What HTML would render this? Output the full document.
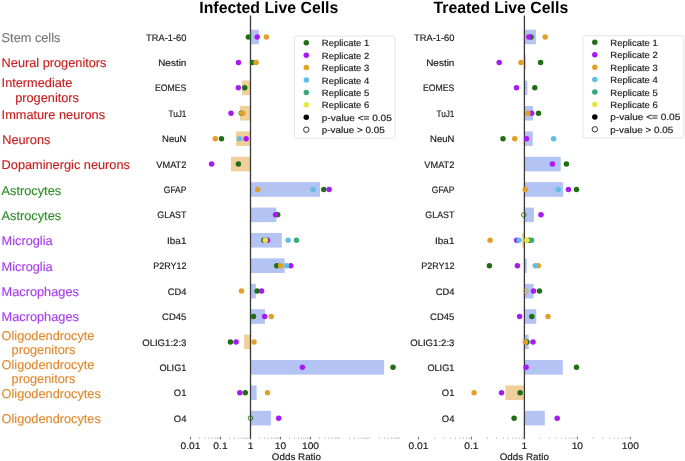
<!DOCTYPE html><html><head><meta charset="utf-8"><style>html,body{margin:0;padding:0;background:#fff;width:685px;height:461px;overflow:hidden}svg{display:block;will-change:transform}text{font-family:"Liberation Sans",sans-serif;text-rendering:geometricPrecision}</style></head><body>
<svg width="685" height="461" viewBox="0 0 685 461">
<rect width="685" height="461" fill="#fff"/>
<text x="1.6" y="41.9" font-size="12.75" fill="#787878" stroke="#787878" stroke-width="0.15">Stem cells</text>
<text x="1.6" y="67.0" font-size="12.75" fill="#c82020" stroke="#c82020" stroke-width="0.15">Neural progenitors</text>
<text x="1.6" y="87.3" font-size="12.75" fill="#c82020" stroke="#c82020" stroke-width="0.15">Intermediate</text>
<text x="15.2" y="101.9" font-size="12.75" fill="#c82020" stroke="#c82020" stroke-width="0.15">progenitors</text>
<text x="1.6" y="118.7" font-size="12.75" fill="#c82020" stroke="#c82020" stroke-width="0.15">Immature neurons</text>
<text x="2.2" y="143.7" font-size="12.75" fill="#c82020" stroke="#c82020" stroke-width="0.15">Neurons</text>
<text x="1.6" y="168.8" font-size="12.75" fill="#c82020" stroke="#c82020" stroke-width="0.15">Dopaminergic neurons</text>
<text x="1.6" y="194.5" font-size="12.75" fill="#2f8f2a" stroke="#2f8f2a" stroke-width="0.15">Astrocytes</text>
<text x="1.6" y="219.6" font-size="12.75" fill="#2f8f2a" stroke="#2f8f2a" stroke-width="0.15">Astrocytes</text>
<text x="1.6" y="245.4" font-size="12.75" fill="#a83cf0" stroke="#a83cf0" stroke-width="0.15">Microglia</text>
<text x="1.6" y="270.5" font-size="12.75" fill="#a83cf0" stroke="#a83cf0" stroke-width="0.15">Microglia</text>
<text x="1.6" y="296.0" font-size="12.75" fill="#a83cf0" stroke="#a83cf0" stroke-width="0.15">Macrophages</text>
<text x="1.6" y="321.0" font-size="12.75" fill="#a83cf0" stroke="#a83cf0" stroke-width="0.15">Macrophages</text>
<text x="1.6" y="339.7" font-size="12.75" fill="#e08a30" stroke="#e08a30" stroke-width="0.15">Oligodendrocyte</text>
<text x="11.6" y="353.9" font-size="12.75" fill="#e08a30" stroke="#e08a30" stroke-width="0.15">progenitors</text>
<text x="1.6" y="368.6" font-size="12.75" fill="#e08a30" stroke="#e08a30" stroke-width="0.15">Oligodendrocyte</text>
<text x="11.6" y="382.9" font-size="12.75" fill="#e08a30" stroke="#e08a30" stroke-width="0.15">progenitors</text>
<text x="1.6" y="397.8" font-size="12.75" fill="#e08a30" stroke="#e08a30" stroke-width="0.15">Oligodendrocytes</text>
<text x="1.6" y="422.9" font-size="12.75" fill="#e08a30" stroke="#e08a30" stroke-width="0.15">Oligodendrocytes</text>
<text x="199.3" y="13.2" font-size="16.3" font-weight="bold" fill="#000" textLength="139.0" lengthAdjust="spacingAndGlyphs">Infected Live Cells</text>
<text x="433.5" y="13.2" font-size="16.3" font-weight="bold" fill="#000" textLength="134.7" lengthAdjust="spacingAndGlyphs">Treated Live Cells</text>
<text x="186.40" y="40.60" font-size="9.41" fill="#1c1c1c" stroke="#1c1c1c" stroke-width="0.18" text-anchor="end" textLength="40.34" lengthAdjust="spacingAndGlyphs">TRA-1-60</text>
<text x="186.40" y="66.01" font-size="9.41" fill="#1c1c1c" stroke="#1c1c1c" stroke-width="0.18" text-anchor="end" textLength="28.21" lengthAdjust="spacingAndGlyphs">Nestin</text>
<text x="186.40" y="91.42" font-size="9.41" fill="#1c1c1c" stroke="#1c1c1c" stroke-width="0.18" text-anchor="end" textLength="31.40" lengthAdjust="spacingAndGlyphs">EOMES</text>
<text x="186.40" y="116.83" font-size="9.41" fill="#1c1c1c" stroke="#1c1c1c" stroke-width="0.18" text-anchor="end" textLength="17.91" lengthAdjust="spacingAndGlyphs">TuJ1</text>
<text x="186.40" y="142.24" font-size="9.41" fill="#1c1c1c" stroke="#1c1c1c" stroke-width="0.18" text-anchor="end" textLength="24.29" lengthAdjust="spacingAndGlyphs">NeuN</text>
<text x="186.40" y="167.65" font-size="9.41" fill="#1c1c1c" stroke="#1c1c1c" stroke-width="0.18" text-anchor="end" textLength="30.09" lengthAdjust="spacingAndGlyphs">VMAT2</text>
<text x="186.40" y="193.06" font-size="9.41" fill="#1c1c1c" stroke="#1c1c1c" stroke-width="0.18" text-anchor="end" textLength="22.53" lengthAdjust="spacingAndGlyphs">GFAP</text>
<text x="186.40" y="218.47" font-size="9.41" fill="#1c1c1c" stroke="#1c1c1c" stroke-width="0.18" text-anchor="end" textLength="29.07" lengthAdjust="spacingAndGlyphs">GLAST</text>
<text x="186.40" y="243.88" font-size="9.41" fill="#1c1c1c" stroke="#1c1c1c" stroke-width="0.18" text-anchor="end" textLength="19.28" lengthAdjust="spacingAndGlyphs">Iba1</text>
<text x="186.40" y="269.29" font-size="9.41" fill="#1c1c1c" stroke="#1c1c1c" stroke-width="0.18" text-anchor="end" textLength="33.22" lengthAdjust="spacingAndGlyphs">P2RY12</text>
<text x="186.40" y="294.70" font-size="9.41" fill="#1c1c1c" stroke="#1c1c1c" stroke-width="0.18" text-anchor="end" textLength="18.62" lengthAdjust="spacingAndGlyphs">CD4</text>
<text x="186.40" y="320.11" font-size="9.41" fill="#1c1c1c" stroke="#1c1c1c" stroke-width="0.18" text-anchor="end" textLength="24.26" lengthAdjust="spacingAndGlyphs">CD45</text>
<text x="186.40" y="345.52" font-size="9.41" fill="#1c1c1c" stroke="#1c1c1c" stroke-width="0.18" text-anchor="end" textLength="44.22" lengthAdjust="spacingAndGlyphs">OLIG1:2:3</text>
<text x="186.40" y="370.93" font-size="9.41" fill="#1c1c1c" stroke="#1c1c1c" stroke-width="0.18" text-anchor="end" textLength="27.00" lengthAdjust="spacingAndGlyphs">OLIG1</text>
<text x="186.40" y="396.34" font-size="9.41" fill="#1c1c1c" stroke="#1c1c1c" stroke-width="0.18" text-anchor="end" textLength="12.60" lengthAdjust="spacingAndGlyphs">O1</text>
<text x="186.40" y="421.75" font-size="9.41" fill="#1c1c1c" stroke="#1c1c1c" stroke-width="0.18" text-anchor="end" textLength="12.60" lengthAdjust="spacingAndGlyphs">O4</text>
<rect x="250.50" y="29.70" width="8.40" height="14.6" fill="#b3c3f3"/>
<rect x="242.10" y="80.52" width="8.40" height="14.6" fill="#f0d09a"/>
<rect x="239.90" y="105.93" width="10.60" height="14.6" fill="#f0d09a"/>
<rect x="236.10" y="131.34" width="14.40" height="14.6" fill="#f0d09a"/>
<rect x="231.00" y="156.75" width="19.50" height="14.6" fill="#f0d09a"/>
<rect x="250.50" y="182.16" width="69.50" height="14.6" fill="#b3c3f3"/>
<rect x="250.50" y="207.57" width="26.00" height="14.6" fill="#b3c3f3"/>
<rect x="250.50" y="232.98" width="31.30" height="14.6" fill="#b3c3f3"/>
<rect x="250.50" y="258.39" width="34.20" height="14.6" fill="#b3c3f3"/>
<rect x="250.50" y="283.80" width="5.30" height="14.6" fill="#b3c3f3"/>
<rect x="250.50" y="309.21" width="14.40" height="14.6" fill="#b3c3f3"/>
<rect x="244.10" y="334.62" width="6.40" height="14.6" fill="#f0d09a"/>
<rect x="250.50" y="360.03" width="133.60" height="14.6" fill="#b3c3f3"/>
<rect x="250.50" y="385.44" width="6.10" height="14.6" fill="#b3c3f3"/>
<rect x="250.50" y="410.85" width="20.40" height="14.6" fill="#b3c3f3"/>
<line x1="250.5" y1="15.6" x2="250.5" y2="439" stroke="#3a3a3a" stroke-width="1.3"/>
<line x1="190.50" y1="436.8" x2="190.50" y2="439.4" stroke="#555" stroke-width="0.9"/>
<text x="190.50" y="448.70" font-size="9.51" fill="#1c1c1c" stroke="#1c1c1c" stroke-width="0.18" text-anchor="middle" textLength="19.93" lengthAdjust="spacingAndGlyphs">0.01</text>
<line x1="220.50" y1="436.8" x2="220.50" y2="439.4" stroke="#555" stroke-width="0.9"/>
<text x="220.50" y="448.70" font-size="9.51" fill="#1c1c1c" stroke="#1c1c1c" stroke-width="0.18" text-anchor="middle" textLength="14.23" lengthAdjust="spacingAndGlyphs">0.1</text>
<line x1="250.50" y1="436.8" x2="250.50" y2="439.4" stroke="#555" stroke-width="0.9"/>
<text x="250.50" y="448.70" font-size="9.51" fill="#1c1c1c" stroke="#1c1c1c" stroke-width="0.18" text-anchor="middle" textLength="5.69" lengthAdjust="spacingAndGlyphs">1</text>
<line x1="280.50" y1="436.8" x2="280.50" y2="439.4" stroke="#555" stroke-width="0.9"/>
<text x="280.50" y="448.70" font-size="9.51" fill="#1c1c1c" stroke="#1c1c1c" stroke-width="0.18" text-anchor="middle" textLength="11.39" lengthAdjust="spacingAndGlyphs">10</text>
<line x1="310.50" y1="436.8" x2="310.50" y2="439.4" stroke="#555" stroke-width="0.9"/>
<text x="310.50" y="448.70" font-size="9.51" fill="#1c1c1c" stroke="#1c1c1c" stroke-width="0.18" text-anchor="middle" textLength="17.08" lengthAdjust="spacingAndGlyphs">100</text>
<line x1="199.53" y1="437.4" x2="199.53" y2="439.0" stroke="#aaa" stroke-width="0.7"/>
<line x1="204.81" y1="437.4" x2="204.81" y2="439.0" stroke="#aaa" stroke-width="0.7"/>
<line x1="208.56" y1="437.4" x2="208.56" y2="439.0" stroke="#aaa" stroke-width="0.7"/>
<line x1="211.47" y1="437.4" x2="211.47" y2="439.0" stroke="#aaa" stroke-width="0.7"/>
<line x1="213.84" y1="437.4" x2="213.84" y2="439.0" stroke="#aaa" stroke-width="0.7"/>
<line x1="215.85" y1="437.4" x2="215.85" y2="439.0" stroke="#aaa" stroke-width="0.7"/>
<line x1="217.59" y1="437.4" x2="217.59" y2="439.0" stroke="#aaa" stroke-width="0.7"/>
<line x1="219.13" y1="437.4" x2="219.13" y2="439.0" stroke="#aaa" stroke-width="0.7"/>
<line x1="229.53" y1="437.4" x2="229.53" y2="439.0" stroke="#aaa" stroke-width="0.7"/>
<line x1="234.81" y1="437.4" x2="234.81" y2="439.0" stroke="#aaa" stroke-width="0.7"/>
<line x1="238.56" y1="437.4" x2="238.56" y2="439.0" stroke="#aaa" stroke-width="0.7"/>
<line x1="241.47" y1="437.4" x2="241.47" y2="439.0" stroke="#aaa" stroke-width="0.7"/>
<line x1="243.84" y1="437.4" x2="243.84" y2="439.0" stroke="#aaa" stroke-width="0.7"/>
<line x1="245.85" y1="437.4" x2="245.85" y2="439.0" stroke="#aaa" stroke-width="0.7"/>
<line x1="247.59" y1="437.4" x2="247.59" y2="439.0" stroke="#aaa" stroke-width="0.7"/>
<line x1="249.13" y1="437.4" x2="249.13" y2="439.0" stroke="#aaa" stroke-width="0.7"/>
<line x1="259.53" y1="437.4" x2="259.53" y2="439.0" stroke="#aaa" stroke-width="0.7"/>
<line x1="264.81" y1="437.4" x2="264.81" y2="439.0" stroke="#aaa" stroke-width="0.7"/>
<line x1="268.56" y1="437.4" x2="268.56" y2="439.0" stroke="#aaa" stroke-width="0.7"/>
<line x1="271.47" y1="437.4" x2="271.47" y2="439.0" stroke="#aaa" stroke-width="0.7"/>
<line x1="273.84" y1="437.4" x2="273.84" y2="439.0" stroke="#aaa" stroke-width="0.7"/>
<line x1="275.85" y1="437.4" x2="275.85" y2="439.0" stroke="#aaa" stroke-width="0.7"/>
<line x1="277.59" y1="437.4" x2="277.59" y2="439.0" stroke="#aaa" stroke-width="0.7"/>
<line x1="279.13" y1="437.4" x2="279.13" y2="439.0" stroke="#aaa" stroke-width="0.7"/>
<line x1="289.53" y1="437.4" x2="289.53" y2="439.0" stroke="#aaa" stroke-width="0.7"/>
<line x1="294.81" y1="437.4" x2="294.81" y2="439.0" stroke="#aaa" stroke-width="0.7"/>
<line x1="298.56" y1="437.4" x2="298.56" y2="439.0" stroke="#aaa" stroke-width="0.7"/>
<line x1="301.47" y1="437.4" x2="301.47" y2="439.0" stroke="#aaa" stroke-width="0.7"/>
<line x1="303.84" y1="437.4" x2="303.84" y2="439.0" stroke="#aaa" stroke-width="0.7"/>
<line x1="305.85" y1="437.4" x2="305.85" y2="439.0" stroke="#aaa" stroke-width="0.7"/>
<line x1="307.59" y1="437.4" x2="307.59" y2="439.0" stroke="#aaa" stroke-width="0.7"/>
<line x1="309.13" y1="437.4" x2="309.13" y2="439.0" stroke="#aaa" stroke-width="0.7"/>
<line x1="319.53" y1="437.4" x2="319.53" y2="439.0" stroke="#aaa" stroke-width="0.7"/>
<line x1="324.81" y1="437.4" x2="324.81" y2="439.0" stroke="#aaa" stroke-width="0.7"/>
<line x1="328.56" y1="437.4" x2="328.56" y2="439.0" stroke="#aaa" stroke-width="0.7"/>
<line x1="331.47" y1="437.4" x2="331.47" y2="439.0" stroke="#aaa" stroke-width="0.7"/>
<line x1="333.84" y1="437.4" x2="333.84" y2="439.0" stroke="#aaa" stroke-width="0.7"/>
<line x1="335.85" y1="437.4" x2="335.85" y2="439.0" stroke="#aaa" stroke-width="0.7"/>
<line x1="337.59" y1="437.4" x2="337.59" y2="439.0" stroke="#aaa" stroke-width="0.7"/>
<line x1="339.13" y1="437.4" x2="339.13" y2="439.0" stroke="#aaa" stroke-width="0.7"/>
<line x1="349.53" y1="437.4" x2="349.53" y2="439.0" stroke="#aaa" stroke-width="0.7"/>
<line x1="354.81" y1="437.4" x2="354.81" y2="439.0" stroke="#aaa" stroke-width="0.7"/>
<line x1="358.56" y1="437.4" x2="358.56" y2="439.0" stroke="#aaa" stroke-width="0.7"/>
<line x1="361.47" y1="437.4" x2="361.47" y2="439.0" stroke="#aaa" stroke-width="0.7"/>
<line x1="363.84" y1="437.4" x2="363.84" y2="439.0" stroke="#aaa" stroke-width="0.7"/>
<line x1="365.85" y1="437.4" x2="365.85" y2="439.0" stroke="#aaa" stroke-width="0.7"/>
<line x1="367.59" y1="437.4" x2="367.59" y2="439.0" stroke="#aaa" stroke-width="0.7"/>
<line x1="369.13" y1="437.4" x2="369.13" y2="439.0" stroke="#aaa" stroke-width="0.7"/>
<line x1="379.53" y1="437.4" x2="379.53" y2="439.0" stroke="#aaa" stroke-width="0.7"/>
<line x1="384.81" y1="437.4" x2="384.81" y2="439.0" stroke="#aaa" stroke-width="0.7"/>
<line x1="388.56" y1="437.4" x2="388.56" y2="439.0" stroke="#aaa" stroke-width="0.7"/>
<line x1="391.47" y1="437.4" x2="391.47" y2="439.0" stroke="#aaa" stroke-width="0.7"/>
<line x1="393.84" y1="437.4" x2="393.84" y2="439.0" stroke="#aaa" stroke-width="0.7"/>
<line x1="395.85" y1="437.4" x2="395.85" y2="439.0" stroke="#aaa" stroke-width="0.7"/>
<line x1="397.59" y1="437.4" x2="397.59" y2="439.0" stroke="#aaa" stroke-width="0.7"/>
<line x1="399.13" y1="437.4" x2="399.13" y2="439.0" stroke="#aaa" stroke-width="0.7"/>
<circle cx="248.4" cy="37.00" r="2.75" fill="#226e14"/>
<circle cx="257.2" cy="37.00" r="2.75" fill="#a61af6"/>
<circle cx="266.4" cy="37.00" r="2.75" fill="#e0a02a"/>
<circle cx="252.4" cy="62.41" r="2.75" fill="#226e14"/>
<circle cx="238.5" cy="62.41" r="2.75" fill="#a61af6"/>
<circle cx="256.1" cy="62.41" r="2.75" fill="#e0a02a"/>
<circle cx="244.7" cy="87.82" r="2.75" fill="#226e14"/>
<circle cx="238.3" cy="87.82" r="2.75" fill="#a61af6"/>
<circle cx="241.2" cy="113.23" r="2.3" fill="none" stroke="#226e14" stroke-width="0.9"/>
<circle cx="231.0" cy="113.23" r="2.75" fill="#a61af6"/>
<circle cx="242.8" cy="113.23" r="2.75" fill="#e0a02a"/>
<circle cx="221.5" cy="138.64" r="2.75" fill="#226e14"/>
<circle cx="246.1" cy="138.64" r="2.75" fill="#a61af6"/>
<circle cx="215.3" cy="138.64" r="2.75" fill="#e0a02a"/>
<circle cx="239.5" cy="138.64" r="2.75" fill="#62bde9"/>
<circle cx="238.4" cy="164.05" r="2.75" fill="#226e14"/>
<circle cx="211.6" cy="164.05" r="2.75" fill="#a61af6"/>
<circle cx="323.8" cy="189.46" r="2.75" fill="#226e14"/>
<circle cx="329.1" cy="189.46" r="2.75" fill="#a61af6"/>
<circle cx="257.7" cy="189.46" r="2.75" fill="#e0a02a"/>
<circle cx="313.3" cy="189.46" r="2.75" fill="#62bde9"/>
<circle cx="277.7" cy="214.87" r="2.75" fill="#226e14"/>
<circle cx="275.5" cy="214.87" r="2.75" fill="#a61af6"/>
<circle cx="263.9" cy="240.28" r="2.75" fill="#226e14"/>
<circle cx="267.5" cy="240.28" r="2.75" fill="#a61af6"/>
<circle cx="288.1" cy="240.28" r="2.75" fill="#62bde9"/>
<circle cx="296.5" cy="240.28" r="2.75" fill="#3aa877"/>
<circle cx="265.3" cy="240.28" r="2.75" fill="#e6e646"/>
<circle cx="276.8" cy="265.69" r="2.75" fill="#226e14"/>
<circle cx="290.7" cy="265.69" r="2.75" fill="#a61af6"/>
<circle cx="280.6" cy="265.69" r="2.75" fill="#e0a02a"/>
<circle cx="286.4" cy="265.69" r="2.75" fill="#62bde9"/>
<circle cx="257.1" cy="291.10" r="2.75" fill="#226e14"/>
<circle cx="261.6" cy="291.10" r="2.75" fill="#a61af6"/>
<circle cx="241.5" cy="291.10" r="2.75" fill="#e0a02a"/>
<circle cx="253.5" cy="316.51" r="2.75" fill="#226e14"/>
<circle cx="264.7" cy="316.51" r="2.75" fill="#a61af6"/>
<circle cx="271.2" cy="316.51" r="2.75" fill="#e0a02a"/>
<circle cx="230.4" cy="341.92" r="2.75" fill="#226e14"/>
<circle cx="236.1" cy="341.92" r="2.75" fill="#a61af6"/>
<circle cx="254.0" cy="341.92" r="2.75" fill="#e0a02a"/>
<circle cx="393.0" cy="367.33" r="2.75" fill="#226e14"/>
<circle cx="302.4" cy="367.33" r="2.75" fill="#a61af6"/>
<circle cx="245.3" cy="392.74" r="2.75" fill="#226e14"/>
<circle cx="239.8" cy="392.74" r="2.75" fill="#a61af6"/>
<circle cx="267.5" cy="392.74" r="2.75" fill="#e0a02a"/>
<circle cx="250.5" cy="418.15" r="2.3" fill="none" stroke="#226e14" stroke-width="0.9"/>
<circle cx="278.7" cy="418.15" r="2.75" fill="#a61af6"/>
<text x="454.40" y="40.60" font-size="9.41" fill="#1c1c1c" stroke="#1c1c1c" stroke-width="0.18" text-anchor="end" textLength="40.34" lengthAdjust="spacingAndGlyphs">TRA-1-60</text>
<text x="454.40" y="66.01" font-size="9.41" fill="#1c1c1c" stroke="#1c1c1c" stroke-width="0.18" text-anchor="end" textLength="28.21" lengthAdjust="spacingAndGlyphs">Nestin</text>
<text x="454.40" y="91.42" font-size="9.41" fill="#1c1c1c" stroke="#1c1c1c" stroke-width="0.18" text-anchor="end" textLength="31.40" lengthAdjust="spacingAndGlyphs">EOMES</text>
<text x="454.40" y="116.83" font-size="9.41" fill="#1c1c1c" stroke="#1c1c1c" stroke-width="0.18" text-anchor="end" textLength="17.91" lengthAdjust="spacingAndGlyphs">TuJ1</text>
<text x="454.40" y="142.24" font-size="9.41" fill="#1c1c1c" stroke="#1c1c1c" stroke-width="0.18" text-anchor="end" textLength="24.29" lengthAdjust="spacingAndGlyphs">NeuN</text>
<text x="454.40" y="167.65" font-size="9.41" fill="#1c1c1c" stroke="#1c1c1c" stroke-width="0.18" text-anchor="end" textLength="30.09" lengthAdjust="spacingAndGlyphs">VMAT2</text>
<text x="454.40" y="193.06" font-size="9.41" fill="#1c1c1c" stroke="#1c1c1c" stroke-width="0.18" text-anchor="end" textLength="22.53" lengthAdjust="spacingAndGlyphs">GFAP</text>
<text x="454.40" y="218.47" font-size="9.41" fill="#1c1c1c" stroke="#1c1c1c" stroke-width="0.18" text-anchor="end" textLength="29.07" lengthAdjust="spacingAndGlyphs">GLAST</text>
<text x="454.40" y="243.88" font-size="9.41" fill="#1c1c1c" stroke="#1c1c1c" stroke-width="0.18" text-anchor="end" textLength="19.28" lengthAdjust="spacingAndGlyphs">Iba1</text>
<text x="454.40" y="269.29" font-size="9.41" fill="#1c1c1c" stroke="#1c1c1c" stroke-width="0.18" text-anchor="end" textLength="33.22" lengthAdjust="spacingAndGlyphs">P2RY12</text>
<text x="454.40" y="294.70" font-size="9.41" fill="#1c1c1c" stroke="#1c1c1c" stroke-width="0.18" text-anchor="end" textLength="18.62" lengthAdjust="spacingAndGlyphs">CD4</text>
<text x="454.40" y="320.11" font-size="9.41" fill="#1c1c1c" stroke="#1c1c1c" stroke-width="0.18" text-anchor="end" textLength="24.26" lengthAdjust="spacingAndGlyphs">CD45</text>
<text x="454.40" y="345.52" font-size="9.41" fill="#1c1c1c" stroke="#1c1c1c" stroke-width="0.18" text-anchor="end" textLength="44.22" lengthAdjust="spacingAndGlyphs">OLIG1:2:3</text>
<text x="454.40" y="370.93" font-size="9.41" fill="#1c1c1c" stroke="#1c1c1c" stroke-width="0.18" text-anchor="end" textLength="27.00" lengthAdjust="spacingAndGlyphs">OLIG1</text>
<text x="454.40" y="396.34" font-size="9.41" fill="#1c1c1c" stroke="#1c1c1c" stroke-width="0.18" text-anchor="end" textLength="12.60" lengthAdjust="spacingAndGlyphs">O1</text>
<text x="454.40" y="421.75" font-size="9.41" fill="#1c1c1c" stroke="#1c1c1c" stroke-width="0.18" text-anchor="end" textLength="12.60" lengthAdjust="spacingAndGlyphs">O4</text>
<rect x="524.40" y="29.70" width="11.50" height="14.6" fill="#b3c3f3"/>
<rect x="524.40" y="55.11" width="1.30" height="14.6" fill="#b3c3f3"/>
<rect x="524.40" y="80.52" width="3.00" height="14.6" fill="#b3c3f3"/>
<rect x="524.40" y="105.93" width="8.60" height="14.6" fill="#b3c3f3"/>
<rect x="524.40" y="131.34" width="8.40" height="14.6" fill="#b3c3f3"/>
<rect x="524.40" y="156.75" width="36.30" height="14.6" fill="#b3c3f3"/>
<rect x="524.40" y="182.16" width="38.80" height="14.6" fill="#b3c3f3"/>
<rect x="524.40" y="207.57" width="9.50" height="14.6" fill="#b3c3f3"/>
<rect x="522.10" y="232.98" width="2.30" height="14.6" fill="#f0d09a"/>
<rect x="524.40" y="258.39" width="2.30" height="14.6" fill="#b3c3f3"/>
<rect x="524.40" y="283.80" width="9.20" height="14.6" fill="#b3c3f3"/>
<rect x="524.40" y="309.21" width="11.80" height="14.6" fill="#b3c3f3"/>
<rect x="524.40" y="334.62" width="4.20" height="14.6" fill="#b3c3f3"/>
<rect x="524.40" y="360.03" width="38.40" height="14.6" fill="#b3c3f3"/>
<rect x="505.40" y="385.44" width="19.00" height="14.6" fill="#f0d09a"/>
<rect x="524.40" y="410.85" width="20.40" height="14.6" fill="#b3c3f3"/>
<line x1="524.4" y1="15.6" x2="524.4" y2="439" stroke="#3a3a3a" stroke-width="1.3"/>
<line x1="418.50" y1="436.8" x2="418.50" y2="439.4" stroke="#555" stroke-width="0.9"/>
<text x="418.50" y="448.70" font-size="9.51" fill="#1c1c1c" stroke="#1c1c1c" stroke-width="0.18" text-anchor="middle" textLength="19.93" lengthAdjust="spacingAndGlyphs">0.01</text>
<line x1="471.45" y1="436.8" x2="471.45" y2="439.4" stroke="#555" stroke-width="0.9"/>
<text x="471.45" y="448.70" font-size="9.51" fill="#1c1c1c" stroke="#1c1c1c" stroke-width="0.18" text-anchor="middle" textLength="14.23" lengthAdjust="spacingAndGlyphs">0.1</text>
<line x1="524.40" y1="436.8" x2="524.40" y2="439.4" stroke="#555" stroke-width="0.9"/>
<text x="524.40" y="448.70" font-size="9.51" fill="#1c1c1c" stroke="#1c1c1c" stroke-width="0.18" text-anchor="middle" textLength="5.69" lengthAdjust="spacingAndGlyphs">1</text>
<line x1="577.35" y1="436.8" x2="577.35" y2="439.4" stroke="#555" stroke-width="0.9"/>
<text x="577.35" y="448.70" font-size="9.51" fill="#1c1c1c" stroke="#1c1c1c" stroke-width="0.18" text-anchor="middle" textLength="11.39" lengthAdjust="spacingAndGlyphs">10</text>
<line x1="630.30" y1="436.8" x2="630.30" y2="439.4" stroke="#555" stroke-width="0.9"/>
<text x="630.30" y="448.70" font-size="9.51" fill="#1c1c1c" stroke="#1c1c1c" stroke-width="0.18" text-anchor="middle" textLength="17.08" lengthAdjust="spacingAndGlyphs">100</text>
<line x1="434.44" y1="437.4" x2="434.44" y2="439.0" stroke="#aaa" stroke-width="0.7"/>
<line x1="443.76" y1="437.4" x2="443.76" y2="439.0" stroke="#aaa" stroke-width="0.7"/>
<line x1="450.38" y1="437.4" x2="450.38" y2="439.0" stroke="#aaa" stroke-width="0.7"/>
<line x1="455.51" y1="437.4" x2="455.51" y2="439.0" stroke="#aaa" stroke-width="0.7"/>
<line x1="459.70" y1="437.4" x2="459.70" y2="439.0" stroke="#aaa" stroke-width="0.7"/>
<line x1="463.25" y1="437.4" x2="463.25" y2="439.0" stroke="#aaa" stroke-width="0.7"/>
<line x1="466.32" y1="437.4" x2="466.32" y2="439.0" stroke="#aaa" stroke-width="0.7"/>
<line x1="469.03" y1="437.4" x2="469.03" y2="439.0" stroke="#aaa" stroke-width="0.7"/>
<line x1="487.39" y1="437.4" x2="487.39" y2="439.0" stroke="#aaa" stroke-width="0.7"/>
<line x1="496.71" y1="437.4" x2="496.71" y2="439.0" stroke="#aaa" stroke-width="0.7"/>
<line x1="503.33" y1="437.4" x2="503.33" y2="439.0" stroke="#aaa" stroke-width="0.7"/>
<line x1="508.46" y1="437.4" x2="508.46" y2="439.0" stroke="#aaa" stroke-width="0.7"/>
<line x1="512.65" y1="437.4" x2="512.65" y2="439.0" stroke="#aaa" stroke-width="0.7"/>
<line x1="516.20" y1="437.4" x2="516.20" y2="439.0" stroke="#aaa" stroke-width="0.7"/>
<line x1="519.27" y1="437.4" x2="519.27" y2="439.0" stroke="#aaa" stroke-width="0.7"/>
<line x1="521.98" y1="437.4" x2="521.98" y2="439.0" stroke="#aaa" stroke-width="0.7"/>
<line x1="540.34" y1="437.4" x2="540.34" y2="439.0" stroke="#aaa" stroke-width="0.7"/>
<line x1="549.66" y1="437.4" x2="549.66" y2="439.0" stroke="#aaa" stroke-width="0.7"/>
<line x1="556.28" y1="437.4" x2="556.28" y2="439.0" stroke="#aaa" stroke-width="0.7"/>
<line x1="561.41" y1="437.4" x2="561.41" y2="439.0" stroke="#aaa" stroke-width="0.7"/>
<line x1="565.60" y1="437.4" x2="565.60" y2="439.0" stroke="#aaa" stroke-width="0.7"/>
<line x1="569.15" y1="437.4" x2="569.15" y2="439.0" stroke="#aaa" stroke-width="0.7"/>
<line x1="572.22" y1="437.4" x2="572.22" y2="439.0" stroke="#aaa" stroke-width="0.7"/>
<line x1="574.93" y1="437.4" x2="574.93" y2="439.0" stroke="#aaa" stroke-width="0.7"/>
<line x1="593.29" y1="437.4" x2="593.29" y2="439.0" stroke="#aaa" stroke-width="0.7"/>
<line x1="602.61" y1="437.4" x2="602.61" y2="439.0" stroke="#aaa" stroke-width="0.7"/>
<line x1="609.23" y1="437.4" x2="609.23" y2="439.0" stroke="#aaa" stroke-width="0.7"/>
<line x1="614.36" y1="437.4" x2="614.36" y2="439.0" stroke="#aaa" stroke-width="0.7"/>
<line x1="618.55" y1="437.4" x2="618.55" y2="439.0" stroke="#aaa" stroke-width="0.7"/>
<line x1="622.10" y1="437.4" x2="622.10" y2="439.0" stroke="#aaa" stroke-width="0.7"/>
<line x1="625.17" y1="437.4" x2="625.17" y2="439.0" stroke="#aaa" stroke-width="0.7"/>
<line x1="627.88" y1="437.4" x2="627.88" y2="439.0" stroke="#aaa" stroke-width="0.7"/>
<circle cx="531.0" cy="37.00" r="2.75" fill="#226e14"/>
<circle cx="528.8" cy="37.00" r="2.75" fill="#a61af6"/>
<circle cx="545.2" cy="37.00" r="2.75" fill="#e0a02a"/>
<circle cx="540.6" cy="62.41" r="2.75" fill="#226e14"/>
<circle cx="499.2" cy="62.41" r="2.75" fill="#a61af6"/>
<circle cx="521.0" cy="62.41" r="2.75" fill="#e0a02a"/>
<circle cx="534.8" cy="87.82" r="2.75" fill="#226e14"/>
<circle cx="516.5" cy="87.82" r="2.75" fill="#a61af6"/>
<circle cx="538.5" cy="113.23" r="2.75" fill="#226e14"/>
<circle cx="531.7" cy="113.23" r="2.75" fill="#a61af6"/>
<circle cx="527.8" cy="113.23" r="2.75" fill="#e0a02a"/>
<circle cx="503.0" cy="138.64" r="2.75" fill="#226e14"/>
<circle cx="526.5" cy="138.64" r="2.75" fill="#a61af6"/>
<circle cx="514.7" cy="138.64" r="2.75" fill="#e0a02a"/>
<circle cx="553.6" cy="138.64" r="2.75" fill="#62bde9"/>
<circle cx="566.4" cy="164.05" r="2.75" fill="#226e14"/>
<circle cx="552.4" cy="164.05" r="2.75" fill="#a61af6"/>
<circle cx="576.5" cy="189.46" r="2.75" fill="#226e14"/>
<circle cx="568.4" cy="189.46" r="2.75" fill="#a61af6"/>
<circle cx="525.2" cy="189.46" r="2.75" fill="#e0a02a"/>
<circle cx="558.3" cy="189.46" r="2.75" fill="#62bde9"/>
<circle cx="523.8" cy="214.87" r="2.3" fill="none" stroke="#226e14" stroke-width="0.9"/>
<circle cx="541.0" cy="214.87" r="2.75" fill="#a61af6"/>
<circle cx="528.9" cy="240.28" r="2.75" fill="#226e14"/>
<circle cx="516.7" cy="240.28" r="2.75" fill="#a61af6"/>
<circle cx="490.1" cy="240.28" r="2.75" fill="#e0a02a"/>
<circle cx="519.0" cy="240.28" r="2.75" fill="#62bde9"/>
<circle cx="531.6" cy="240.28" r="2.75" fill="#3aa877"/>
<circle cx="526.9" cy="240.28" r="2.75" fill="#e6e646"/>
<circle cx="489.4" cy="265.69" r="2.75" fill="#226e14"/>
<circle cx="517.4" cy="265.69" r="2.75" fill="#a61af6"/>
<circle cx="538.3" cy="265.69" r="2.75" fill="#e0a02a"/>
<circle cx="535.3" cy="265.69" r="2.75" fill="#62bde9"/>
<circle cx="539.5" cy="291.10" r="2.75" fill="#226e14"/>
<circle cx="533.5" cy="291.10" r="2.75" fill="#a61af6"/>
<circle cx="525.9" cy="291.10" r="2.3" fill="none" stroke="#e0a02a" stroke-width="0.9"/>
<circle cx="531.8" cy="316.51" r="2.75" fill="#226e14"/>
<circle cx="519.6" cy="316.51" r="2.75" fill="#a61af6"/>
<circle cx="548.0" cy="316.51" r="2.75" fill="#e0a02a"/>
<circle cx="526.9" cy="341.92" r="2.75" fill="#226e14"/>
<circle cx="533.0" cy="341.92" r="2.75" fill="#a61af6"/>
<circle cx="525.3" cy="341.92" r="2.75" fill="#e0a02a"/>
<circle cx="576.5" cy="367.33" r="2.75" fill="#226e14"/>
<circle cx="526.1" cy="367.33" r="2.75" fill="#a61af6"/>
<circle cx="520.1" cy="392.74" r="2.75" fill="#226e14"/>
<circle cx="501.5" cy="392.74" r="2.75" fill="#a61af6"/>
<circle cx="474.1" cy="392.74" r="2.75" fill="#e0a02a"/>
<circle cx="514.1" cy="418.15" r="2.75" fill="#226e14"/>
<circle cx="557.2" cy="418.15" r="2.75" fill="#a61af6"/>
<text x="296.40" y="459.70" font-size="9.57" fill="#1c1c1c" stroke="#1c1c1c" stroke-width="0.18" text-anchor="middle" textLength="49.17" lengthAdjust="spacingAndGlyphs">Odds Ratio</text>
<text x="524.30" y="459.70" font-size="9.57" fill="#1c1c1c" stroke="#1c1c1c" stroke-width="0.18" text-anchor="middle" textLength="49.17" lengthAdjust="spacingAndGlyphs">Odds Ratio</text>
<rect x="294.4" y="36.1" width="100.8" height="102.3" rx="2" ry="2" fill="#fff" fill-opacity="0.8" stroke="#e2e2e2" stroke-width="0.9"/>
<circle cx="306.3" cy="42.70" r="2.75" fill="#226e14"/>
<text x="321.80" y="46.30" font-size="9.04" fill="#1c1c1c" stroke="#1c1c1c" stroke-width="0.18" text-anchor="start" textLength="47.43" lengthAdjust="spacingAndGlyphs">Replicate 1</text>
<circle cx="306.3" cy="55.13" r="2.75" fill="#a61af6"/>
<text x="321.80" y="58.73" font-size="9.04" fill="#1c1c1c" stroke="#1c1c1c" stroke-width="0.18" text-anchor="start" textLength="47.43" lengthAdjust="spacingAndGlyphs">Replicate 2</text>
<circle cx="306.3" cy="67.56" r="2.75" fill="#e0a02a"/>
<text x="321.80" y="71.16" font-size="9.04" fill="#1c1c1c" stroke="#1c1c1c" stroke-width="0.18" text-anchor="start" textLength="47.43" lengthAdjust="spacingAndGlyphs">Replicate 3</text>
<circle cx="306.3" cy="79.99" r="2.75" fill="#62bde9"/>
<text x="321.80" y="83.59" font-size="9.04" fill="#1c1c1c" stroke="#1c1c1c" stroke-width="0.18" text-anchor="start" textLength="47.43" lengthAdjust="spacingAndGlyphs">Replicate 4</text>
<circle cx="306.3" cy="92.42" r="2.75" fill="#3aa877"/>
<text x="321.80" y="96.02" font-size="9.04" fill="#1c1c1c" stroke="#1c1c1c" stroke-width="0.18" text-anchor="start" textLength="47.43" lengthAdjust="spacingAndGlyphs">Replicate 5</text>
<circle cx="306.3" cy="104.85" r="2.75" fill="#e6e646"/>
<text x="321.80" y="108.45" font-size="9.04" fill="#1c1c1c" stroke="#1c1c1c" stroke-width="0.18" text-anchor="start" textLength="47.43" lengthAdjust="spacingAndGlyphs">Replicate 6</text>
<circle cx="306.3" cy="117.28" r="2.75" fill="#000"/>
<text x="321.80" y="120.88" font-size="9.04" fill="#1c1c1c" stroke="#1c1c1c" stroke-width="0.18" text-anchor="start" textLength="70.03" lengthAdjust="spacingAndGlyphs">p-value &lt;= 0.05</text>
<circle cx="306.3" cy="129.71" r="2.7" fill="none" stroke="#000" stroke-width="0.8"/>
<text x="321.80" y="133.31" font-size="9.04" fill="#1c1c1c" stroke="#1c1c1c" stroke-width="0.18" text-anchor="start" textLength="62.90" lengthAdjust="spacingAndGlyphs">p-value &gt; 0.05</text>
<rect x="582.9" y="35.7" width="100.8" height="102.3" rx="2" ry="2" fill="#fff" fill-opacity="0.8" stroke="#e2e2e2" stroke-width="0.9"/>
<circle cx="594.8" cy="42.30" r="2.75" fill="#226e14"/>
<text x="610.30" y="45.90" font-size="9.04" fill="#1c1c1c" stroke="#1c1c1c" stroke-width="0.18" text-anchor="start" textLength="47.43" lengthAdjust="spacingAndGlyphs">Replicate 1</text>
<circle cx="594.8" cy="54.73" r="2.75" fill="#a61af6"/>
<text x="610.30" y="58.33" font-size="9.04" fill="#1c1c1c" stroke="#1c1c1c" stroke-width="0.18" text-anchor="start" textLength="47.43" lengthAdjust="spacingAndGlyphs">Replicate 2</text>
<circle cx="594.8" cy="67.16" r="2.75" fill="#e0a02a"/>
<text x="610.30" y="70.76" font-size="9.04" fill="#1c1c1c" stroke="#1c1c1c" stroke-width="0.18" text-anchor="start" textLength="47.43" lengthAdjust="spacingAndGlyphs">Replicate 3</text>
<circle cx="594.8" cy="79.59" r="2.75" fill="#62bde9"/>
<text x="610.30" y="83.19" font-size="9.04" fill="#1c1c1c" stroke="#1c1c1c" stroke-width="0.18" text-anchor="start" textLength="47.43" lengthAdjust="spacingAndGlyphs">Replicate 4</text>
<circle cx="594.8" cy="92.02" r="2.75" fill="#3aa877"/>
<text x="610.30" y="95.62" font-size="9.04" fill="#1c1c1c" stroke="#1c1c1c" stroke-width="0.18" text-anchor="start" textLength="47.43" lengthAdjust="spacingAndGlyphs">Replicate 5</text>
<circle cx="594.8" cy="104.45" r="2.75" fill="#e6e646"/>
<text x="610.30" y="108.05" font-size="9.04" fill="#1c1c1c" stroke="#1c1c1c" stroke-width="0.18" text-anchor="start" textLength="47.43" lengthAdjust="spacingAndGlyphs">Replicate 6</text>
<circle cx="594.8" cy="116.88" r="2.75" fill="#000"/>
<text x="610.30" y="120.48" font-size="9.04" fill="#1c1c1c" stroke="#1c1c1c" stroke-width="0.18" text-anchor="start" textLength="70.03" lengthAdjust="spacingAndGlyphs">p-value &lt;= 0.05</text>
<circle cx="594.8" cy="129.31" r="2.7" fill="none" stroke="#000" stroke-width="0.8"/>
<text x="610.30" y="132.91" font-size="9.04" fill="#1c1c1c" stroke="#1c1c1c" stroke-width="0.18" text-anchor="start" textLength="62.90" lengthAdjust="spacingAndGlyphs">p-value &gt; 0.05</text>
</svg></body></html>
